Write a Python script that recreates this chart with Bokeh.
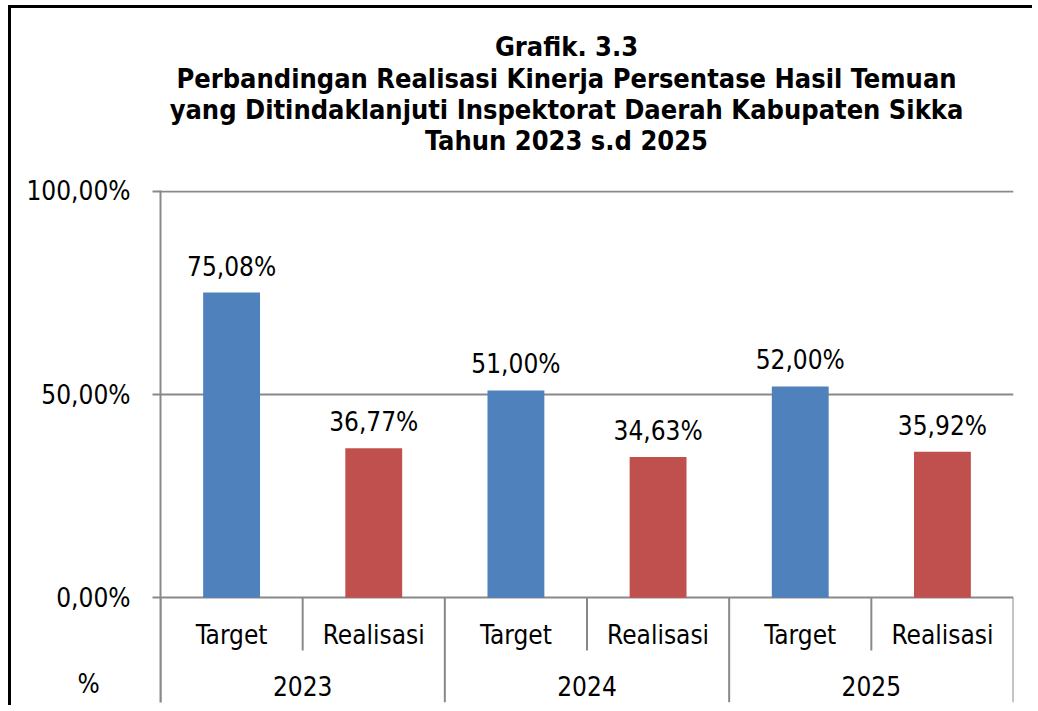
from bokeh.plotting import figure
from bokeh.models import FactorRange, Range1d, FixedTicker, ColumnDataSource, Label
from bokeh.core.properties import value
from bokeh.embed import file_html
from bokeh.resources import INLINE

# ---- data ----
years = ["2023", "2024", "2025"]
kinds = ["Target", "Realisasi"]
target = [75.08, 51.00, 52.00]
realisasi = [36.77, 34.63, 35.92]
y_ticks = [0, 50, 100]
y_tick_labels = ["0,00%", "50,00%", "100,00%"]
title_lines = [
    "Grafik. 3.3",
    "Perbandingan Realisasi Kinerja Persentase Hasil Temuan",
    "yang Ditindaklanjuti Inspektorat Daerah Kabupaten Sikka",
    "Tahun 2023 s.d 2025",
]
unit_label = "%"

# ---- styles / layout constants (page pixels) ----
FONT = "DejaVu Sans Condensed"
BLUE = "#4F81BD"
RED = "#C0504D"
GRAY = "#898989"
TXT = "#000000"
FS = "26px"
BASE_FIX = 9  # text baseline correction (px)

FRAME_L, FRAME_R = 160.0, 1013.0
ZERO_Y, PX_PER_UNIT = 597.3, 4.065
CAT_W = (FRAME_R - FRAME_L) / (len(years) * len(kinds))


def x_at(px):
    return (px - FRAME_L) / CAT_W


def y_at(py):
    return (ZERO_Y - py) / PX_PER_UNIT


factors = [(y, k) for y in years for k in kinds]
values = [v for pair in zip(target, realisasi) for v in pair]
colors = [BLUE, RED] * len(years)
labels = [f"{v:.2f}".replace(".", ",") + "%" for v in values]

src = ColumnDataSource(dict(x=factors, top=values, color=colors, label=labels,
                            kind=[k for _, k in factors], zero=[0] * len(factors)))

x_range = FactorRange(*factors, factor_padding=0, group_padding=0, range_padding=0)
y_range = Range1d(y_at(702), y_at(190))

p = figure(width=1024, height=700, x_range=x_range, y_range=y_range,
           output_backend="svg", toolbar_location=None, x_axis_location=None,
           title=None, min_border_left=149, min_border_right=22,
           min_border_top=182, min_border_bottom=6)
p.styles = {"margin-left": "8px", "margin-top": "5px",
            "border-top": "3px solid black", "border-left": "3px solid black"}
p.outline_line_color = None
p.xgrid.visible = False
p.ygrid.ticker = FixedTicker(ticks=y_ticks)
p.ygrid.grid_line_color = GRAY
p.ygrid.grid_line_width = 2

ax = p.yaxis[0]
ax.ticker = FixedTicker(ticks=y_ticks)
ax.major_label_overrides = {t: s for t, s in zip(y_ticks, y_tick_labels)}
ax.axis_line_color = GRAY
ax.axis_line_width = 2
ax.major_tick_line_color = GRAY
ax.major_tick_line_width = 2
ax.major_tick_out = 8
ax.major_tick_in = 0
ax.minor_tick_line_color = None
ax.major_label_standoff = 22
ax.major_label_text_font = FONT
ax.major_label_text_font_size = FS
ax.major_label_text_color = TXT

# bars
p.vbar(x="x", top="top", width=0.4, fill_color="color", line_color=None, source=src)

# data labels
p.text(x="x", y="top", text="label", source=src, y_offset=-17 - BASE_FIX,
       text_align="center", text_baseline="alphabetic",
       text_font=value(FONT), text_font_size=FS, text_color=TXT)

# category separators (inner and year boundaries)
inner_x = [(y, 0.0) for y in years]
outer_x = [(years[0], -1.0)] + [(y, 1.0) for y in years]
p.segment(x0=inner_x, x1=inner_x, y0=[0] * len(inner_x), y1=[y_at(650)] * len(inner_x),
          line_color=GRAY, line_width=2)
p.segment(x0=outer_x, x1=outer_x, y0=[0] * len(outer_x), y1=[y_range.start] * len(outer_x),
          line_color=GRAY, line_width=2)

# category labels
p.text(x="x", y="zero", text="kind", source=src, y_offset=46 - BASE_FIX,
       text_align="center", text_baseline="alphabetic",
       text_font=value(FONT), text_font_size=FS, text_color=TXT)
p.text(x=years, y=[0] * len(years), text=years, y_offset=97 - BASE_FIX,
       text_align="center", text_baseline="alphabetic",
       text_font=value(FONT), text_font_size=FS, text_color=TXT)

# unit label (outside the frame -> side panel, positioned in data space)
p.add_layout(Label(x=x_at(88), y=y_at(692 - BASE_FIX), text=unit_label,
                   text_align="center", text_baseline="alphabetic",
                   text_font=FONT, text_font_size=FS, text_color=TXT), "above")

# title lines
baselines = [55, 86.5, 117.5, 148.5]
for line, b in zip(title_lines, baselines):
    p.add_layout(Label(x=x_at(566), y=y_at(b - BASE_FIX), text=line,
                       text_align="center", text_baseline="alphabetic",
                       text_font=FONT, text_font_style="bold", text_font_size="27px",
                       text_color=TXT), "above")

open("out.html", "w").write(file_html(p, INLINE))
